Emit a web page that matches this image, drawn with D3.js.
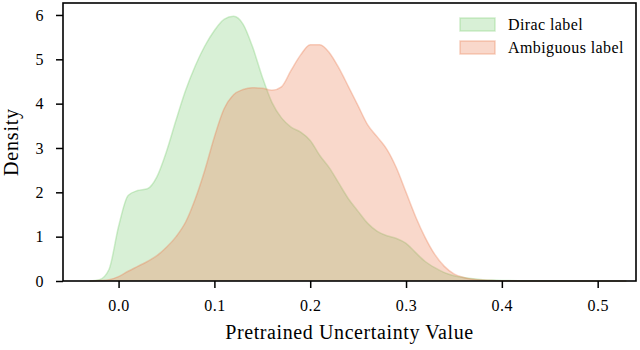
<!DOCTYPE html>
<html>
<head>
<meta charset="utf-8">
<script src="https://cdn.jsdelivr.net/npm/d3@7"></script>
<style>
  body { margin: 0; background: #fff; }
  svg text { font-family: "Liberation Serif", "DejaVu Serif", serif; fill: #000; }
</style>
</head>
<body>
<div id="chart"></div>
<script>
// KDE curves (x grid step 0.01)
const xValues = [-0.03, -0.02, -0.01, 0.00, 0.01, 0.02, 0.03, 0.04, 0.05, 0.06, 0.07, 0.08, 0.09,
  0.10, 0.11, 0.12, 0.13, 0.14, 0.15, 0.16, 0.17, 0.18, 0.19, 0.20, 0.21, 0.22, 0.23, 0.24,
  0.25, 0.26, 0.27, 0.28, 0.29, 0.30, 0.31, 0.32, 0.33, 0.34, 0.35, 0.36, 0.37, 0.38, 0.39,
  0.40, 0.42, 0.45, 0.48, 0.50, 0.53];

const diracDensity = [0.0, 0.03, 0.26, 1.23, 1.93, 2.04, 2.08, 2.35, 2.92, 3.63, 4.30, 4.85, 5.30,
  5.65, 5.90, 5.97, 5.79, 5.27, 4.60, 4.03, 3.68, 3.47, 3.36, 3.17, 2.83, 2.55, 2.20, 1.85,
  1.57, 1.30, 1.12, 1.02, 0.96, 0.85, 0.64, 0.44, 0.30, 0.19, 0.12, 0.08, 0.05, 0.03, 0.02,
  0.012, 0.006, 0.003, 0.001, 0.0, 0.0];

const ambiguousDensity = [0.0, 0.01, 0.03, 0.10, 0.22, 0.33, 0.44, 0.57, 0.76, 1.00, 1.33, 1.85, 2.50,
  3.25, 3.88, 4.20, 4.32, 4.36, 4.35, 4.30, 4.38, 4.75, 5.10, 5.33, 5.33, 5.15, 4.80, 4.38,
  3.95, 3.52, 3.25, 2.97, 2.55, 2.00, 1.45, 0.98, 0.60, 0.33, 0.16, 0.08, 0.04, 0.02, 0.01,
  0.005, 0.002, 0.001, 0.0, 0.0, 0.0];

const seriesNames = ["Dirac label", "Ambiguous label"];
const seriesColors = ["#7dcd76", "#eb7d52"];
const xTicks = [0.0, 0.1, 0.2, 0.3, 0.4, 0.5];
const yTicks = [0, 1, 2, 3, 4, 5, 6];

const width = 640, height = 350;
const margin = { left: 63, right: 4, top: 3, bottom: 69 };

const svg = d3.select("#chart").append("svg")
  .attr("width", width)
  .attr("height", height);

const x = d3.scaleLinear().domain([-0.058, 0.540]).range([margin.left, width - margin.right]);
const y = d3.scaleLinear().domain([0, 6.27]).range([height - margin.bottom, margin.top]);

const series = [diracDensity, ambiguousDensity].map((vals, i) => ({
  name: seriesNames[i],
  color: seriesColors[i],
  points: xValues.map((xv, j) => [xv, vals[j]])
}));

const area = d3.area()
  .x(d => x(d[0]))
  .y0(y(0))
  .y1(d => y(d[1]))
  .curve(d3.curveMonotoneX);

const line = d3.line()
  .x(d => x(d[0]))
  .y(d => y(d[1]))
  .curve(d3.curveMonotoneX);

const plot = svg.append("g");

series.forEach(s => {
  plot.append("path")
    .attr("d", area(s.points))
    .attr("fill", s.color)
    .attr("fill-opacity", 0.3);
  plot.append("path")
    .attr("d", line(s.points))
    .attr("fill", "none")
    .attr("stroke", s.color)
    .attr("stroke-opacity", 0.35)
    .attr("stroke-width", 1.5);
});

// axes
const xAxis = svg.append("g")
  .attr("transform", `translate(0,${height - margin.bottom})`)
  .call(d3.axisBottom(x).tickValues(xTicks).tickFormat(d3.format(".1f")).tickSize(7).tickPadding(12));

const yAxis = svg.append("g")
  .attr("transform", `translate(${margin.left},0)`)
  .call(d3.axisLeft(y).tickValues(yTicks).tickFormat(d3.format("d")).tickSize(7).tickPadding(12));

[xAxis, yAxis].forEach(a => {
  a.select(".domain").remove();
  a.selectAll(".tick line").attr("stroke", "#000").attr("stroke-width", 1.5);
  a.selectAll(".tick text")
    .attr("font-size", 16)
    .attr("font-family", "Liberation Serif")
    .attr("letter-spacing", 0.5);
});

// frame
svg.append("rect")
  .attr("x", margin.left)
  .attr("y", margin.top)
  .attr("width", width - margin.left - margin.right)
  .attr("height", height - margin.top - margin.bottom)
  .attr("fill", "none")
  .attr("stroke", "#000")
  .attr("stroke-width", 1.6);

// labels
svg.append("text")
  .attr("x", (margin.left + width - margin.right) / 2)
  .attr("y", 339)
  .attr("text-anchor", "middle")
  .attr("font-size", 20)
  .attr("letter-spacing", 0.6)
  .text("Pretrained Uncertainty Value");

svg.append("text")
  .attr("transform", `translate(18,${(margin.top + height - margin.bottom) / 2}) rotate(-90)`)
  .attr("text-anchor", "middle")
  .attr("font-size", 20)
  .attr("letter-spacing", 0.8)
  .text("Density");

// legend
const legend = svg.append("g").attr("transform", "translate(460,18)");
series.forEach((s, i) => {
  const g = legend.append("g").attr("transform", `translate(0,${i * 23})`);
  g.append("rect")
    .attr("width", 35)
    .attr("height", 13)
    .attr("fill", s.color)
    .attr("fill-opacity", 0.3)
    .attr("stroke", s.color)
    .attr("stroke-opacity", 0.35)
    .attr("stroke-width", 1.5);
  g.append("text")
    .attr("x", 48)
    .attr("y", 12)
    .attr("font-size", 16)
    .attr("letter-spacing", 0.4)
    .text(s.name);
});
</script>
</body>
</html>
